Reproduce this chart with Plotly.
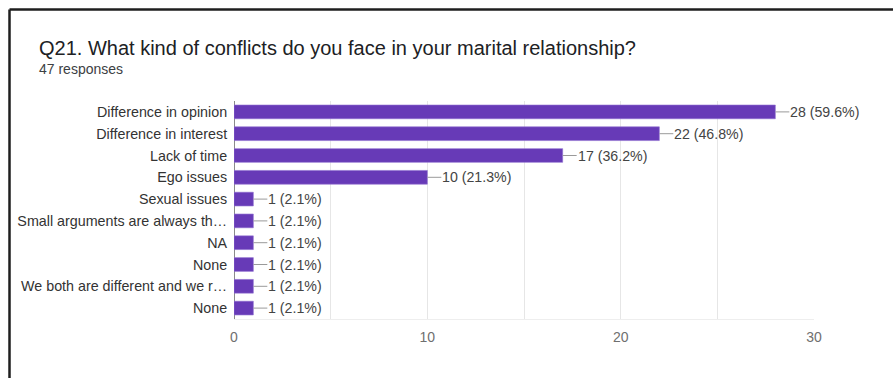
import plotly.graph_objects as go

# Survey question data
question = "Q21. What kind of conflicts do you face in your marital relationship?"
total_responses = 47
categories = [
    "Difference in opinion",
    "Difference in interest",
    "Lack of time",
    "Ego issues",
    "Sexual issues",
    "Small arguments are always th\u2026",
    "NA",
    "None",
    "We both are different and we r\u2026",
    "None",
]
counts = [28, 22, 17, 10, 1, 1, 1, 1, 1, 1]
x_tick_values = [0, 10, 20, 30]

W, H = 893, 378
M_L, M_R, M_T, M_B = 234, 79, 101, 59
PW, PH = W - M_L - M_R, H - M_T - M_B


def px_x(p):
    return (p - M_L) / PW


def px_y(p):
    return (H - M_B - p) / PH


positions = list(range(len(categories)))
bar_color = "#673ab7"
label_font = "Liberation Sans, Arial, sans-serif"

fig = go.Figure(
    go.Bar(
        x=counts,
        y=positions,
        orientation="h",
        width=0.63,
        marker=dict(color=bar_color, line=dict(color="#8e6fd0", width=0.6)),
        hoverinfo="skip",
    )
)

annotations = []
# value labels with a short connector from the bar end
for pos, c in zip(positions, counts):
    pct = c / total_responses * 100
    annotations.append(
        dict(
            x=c, y=pos, xref="x", yref="y",
            text=f"{c} ({pct:.1f}%)",
            showarrow=True, arrowhead=0, arrowwidth=1, arrowcolor="#9a9a9a",
            ax=14, ay=0, xanchor="left", yanchor="middle",
            font=dict(family=label_font, size=14.2, color="#444444"),
            borderpad=0,
        )
    )

# heading
annotations.append(
    dict(
        x=px_x(37), y=px_y(47.5), xref="paper", yref="paper",
        text=question, showarrow=False, xanchor="left", yanchor="middle",
        font=dict(family=label_font, size=20, color="#202124"),
    )
)
annotations.append(
    dict(
        x=px_x(37), y=px_y(69), xref="paper", yref="paper",
        text=f"{total_responses} responses", showarrow=False,
        xanchor="left", yanchor="middle",
        font=dict(family=label_font, size=14, color="#3c4043"),
    )
)

# card frame edges (top and left)
frame = dict(color="#1e1e1e", width=2.5)
shapes = [
    dict(type="line", xref="paper", yref="paper",
         x0=px_x(9.5), x1=px_x(W + 5), y0=px_y(9.5), y1=px_y(9.5), line=frame),
    dict(type="line", xref="paper", yref="paper",
         x0=px_x(9.5), x1=px_x(9.5), y0=px_y(9.5), y1=px_y(H + 5), line=frame),
]

fig.update_layout(
    width=W, height=H,
    margin=dict(l=M_L, r=M_R, t=M_T, b=M_B, pad=0),
    paper_bgcolor="white", plot_bgcolor="white",
    showlegend=False,
    annotations=annotations,
    shapes=shapes,
)

fig.update_xaxes(
    range=[0, 30],
    tickvals=x_tick_values,
    ticktext=[str(v) for v in x_tick_values],
    showgrid=True, gridcolor="#e6e6e6", gridwidth=1,
    minor=dict(dtick=5, tick0=0, showgrid=True, gridcolor="#e6e6e6"),
    zeroline=True, zerolinecolor="#8a8a8a", zerolinewidth=1.2,
    showline=True, linecolor="#eeeeee", linewidth=1, mirror=False,
    ticks="outside", ticklen=5, tickcolor="rgba(0,0,0,0)",
    tickfont=dict(family=label_font, size=14, color="#6f6f6f"),
    fixedrange=True,
)

fig.update_yaxes(
    range=[len(categories) - 0.5, -0.5],
    tickvals=positions,
    ticktext=categories,
    showgrid=False, zeroline=False,
    ticks="outside", ticklen=3, tickcolor="rgba(0,0,0,0)",
    tickfont=dict(family=label_font, size=14.3, color="#333333"),
    fixedrange=True,
)

fig.write_html("out.html")
